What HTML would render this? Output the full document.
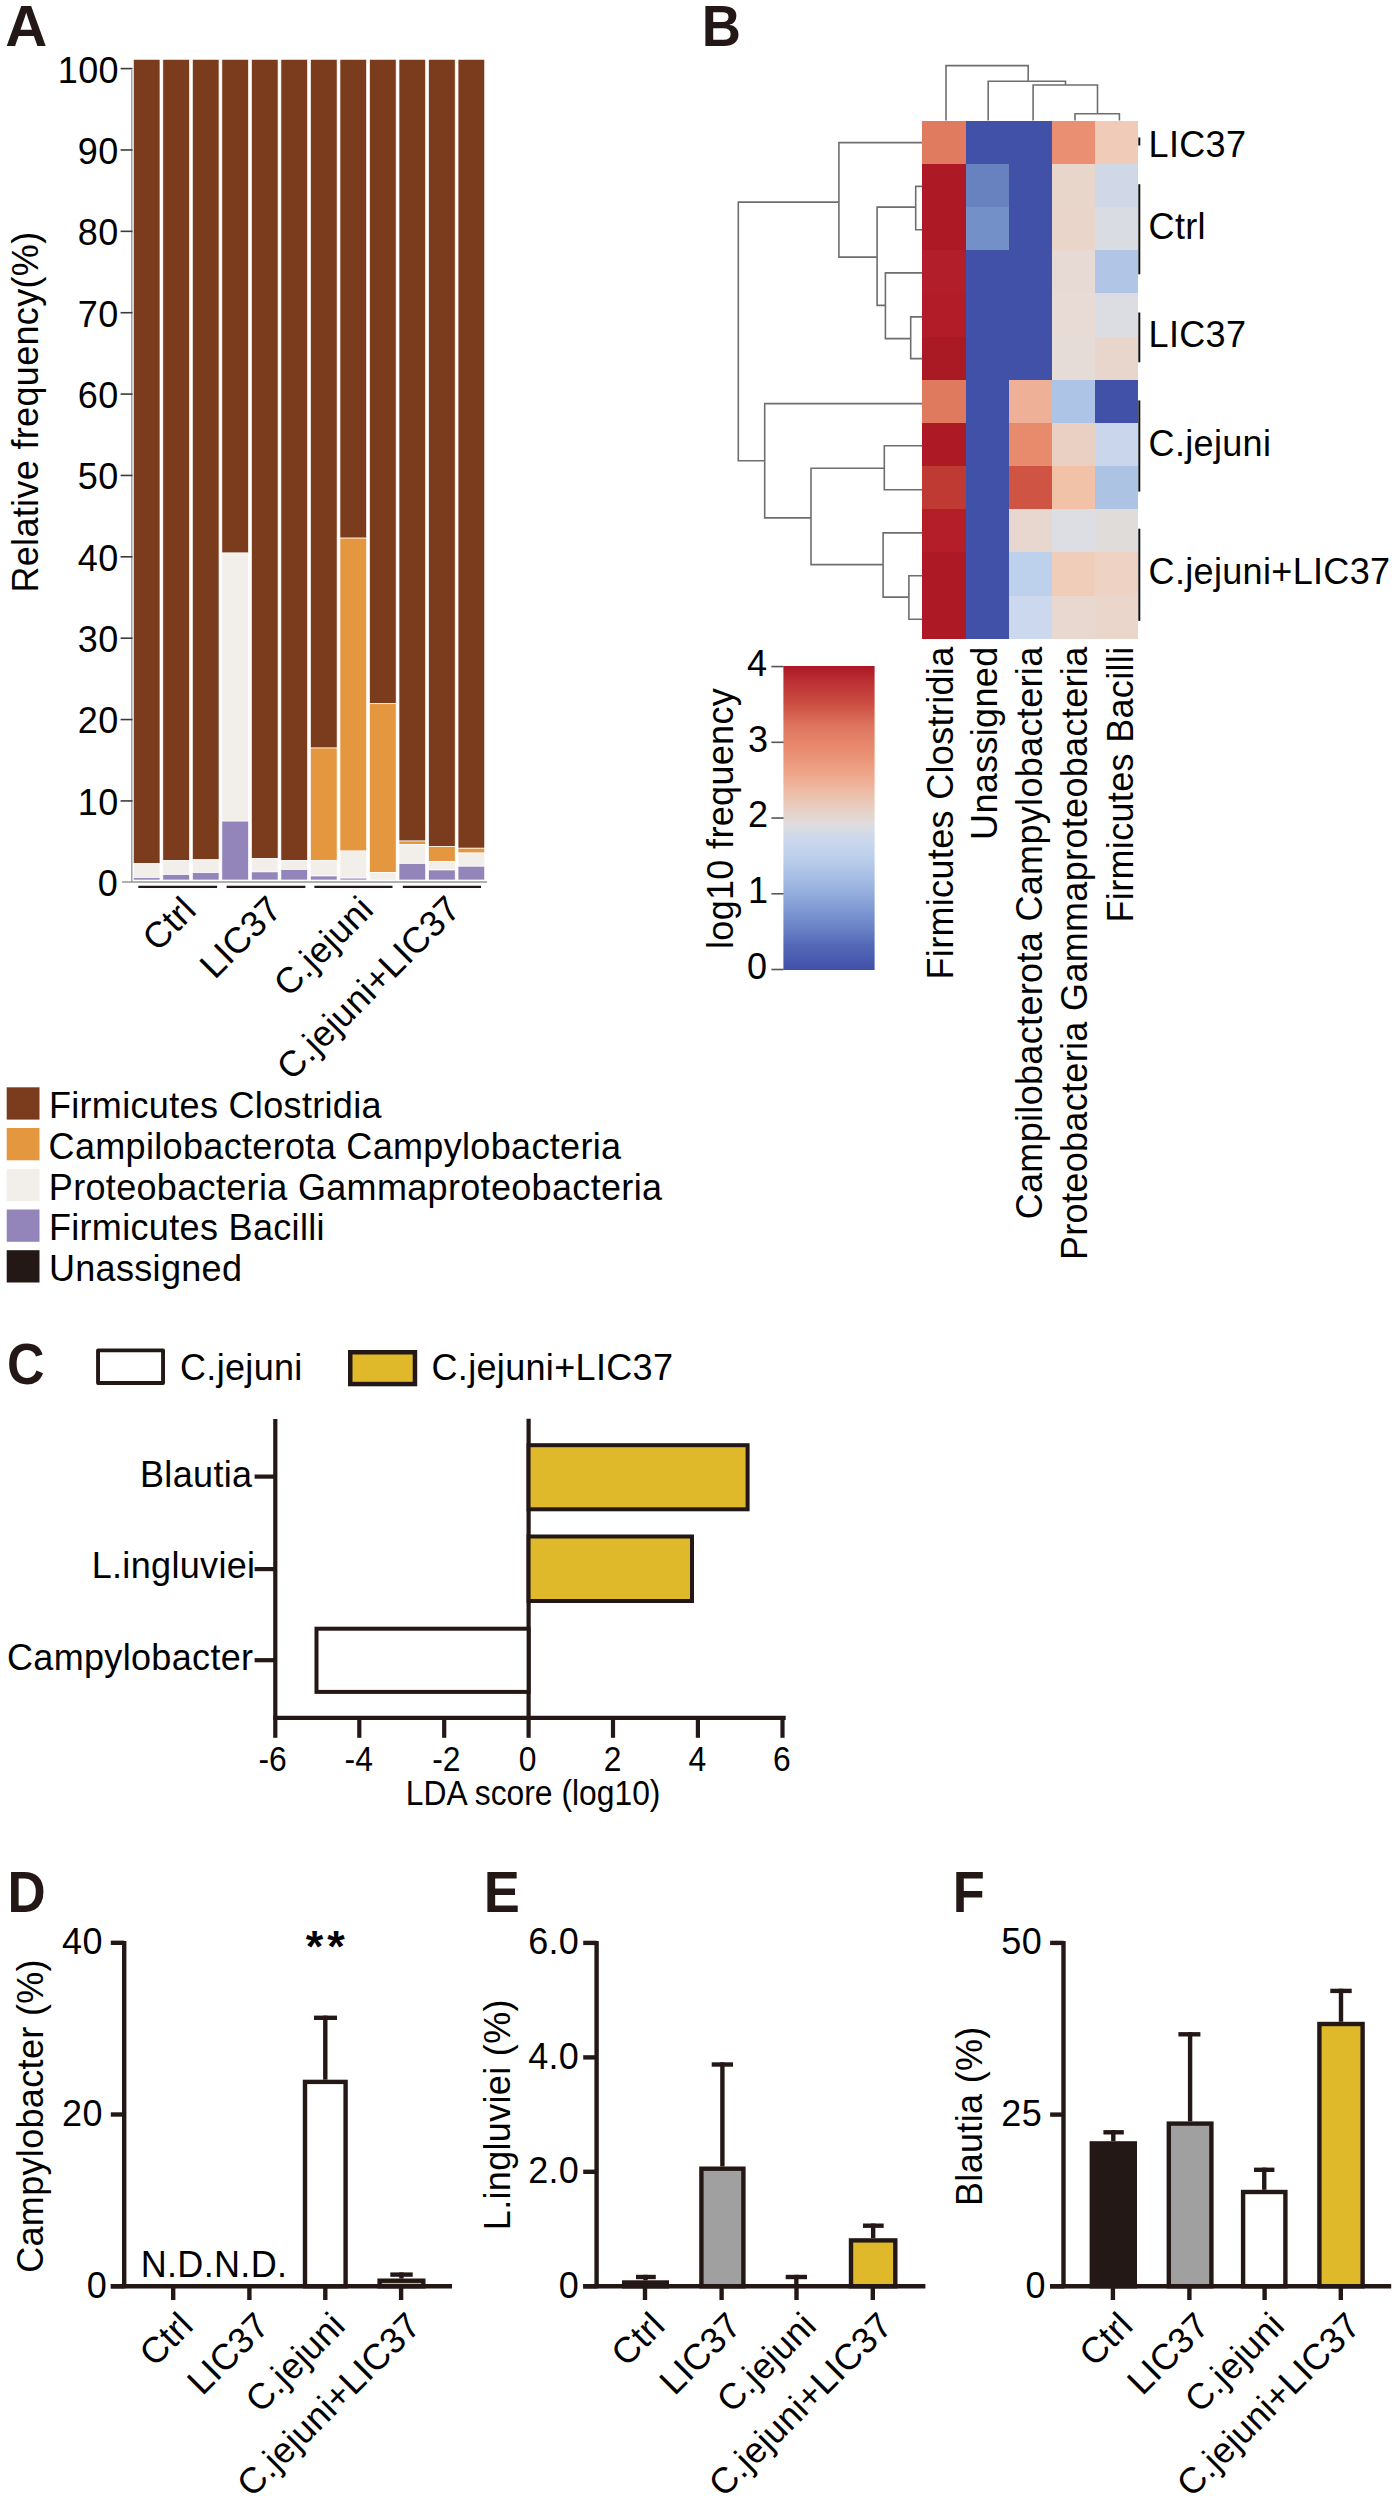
<!DOCTYPE html>
<html><head><meta charset="utf-8"><title>Figure</title>
<style>
html,body{margin:0;padding:0;background:#fff;}
body{width:1399px;height:2500px;overflow:hidden;}
svg{display:block;font-family:"Liberation Sans", sans-serif;}
</style></head><body>
<svg width="1399" height="2500" viewBox="0 0 1399 2500">
<rect x="0" y="0" width="1399" height="2500" fill="#fff"/>
<rect x="133.30" y="59.30" width="26.70" height="804.40" fill="#7b3c1e" stroke="#fff" stroke-width="0.7"/>
<rect x="133.30" y="863.70" width="26.70" height="14.00" fill="#f2eeea" stroke="#fff" stroke-width="0.7"/>
<rect x="133.30" y="877.70" width="26.70" height="2.30" fill="#9385b9" stroke="#fff" stroke-width="0.7"/>
<rect x="162.82" y="59.30" width="26.70" height="801.20" fill="#7b3c1e" stroke="#fff" stroke-width="0.7"/>
<rect x="162.82" y="860.50" width="26.70" height="14.10" fill="#f2eeea" stroke="#fff" stroke-width="0.7"/>
<rect x="162.82" y="874.60" width="26.70" height="5.40" fill="#9385b9" stroke="#fff" stroke-width="0.7"/>
<rect x="192.34" y="59.30" width="26.70" height="800.50" fill="#7b3c1e" stroke="#fff" stroke-width="0.7"/>
<rect x="192.34" y="859.80" width="26.70" height="12.90" fill="#f2eeea" stroke="#fff" stroke-width="0.7"/>
<rect x="192.34" y="872.70" width="26.70" height="7.30" fill="#9385b9" stroke="#fff" stroke-width="0.7"/>
<rect x="221.86" y="59.30" width="26.70" height="493.70" fill="#7b3c1e" stroke="#fff" stroke-width="0.7"/>
<rect x="221.86" y="553.00" width="26.70" height="268.10" fill="#f2eeea" stroke="#fff" stroke-width="0.7"/>
<rect x="221.86" y="821.10" width="26.70" height="58.90" fill="#9385b9" stroke="#fff" stroke-width="0.7"/>
<rect x="251.38" y="59.30" width="26.70" height="799.40" fill="#7b3c1e" stroke="#fff" stroke-width="0.7"/>
<rect x="251.38" y="858.70" width="26.70" height="13.20" fill="#f2eeea" stroke="#fff" stroke-width="0.7"/>
<rect x="251.38" y="871.90" width="26.70" height="8.10" fill="#9385b9" stroke="#fff" stroke-width="0.7"/>
<rect x="280.90" y="59.30" width="26.70" height="801.20" fill="#7b3c1e" stroke="#fff" stroke-width="0.7"/>
<rect x="280.90" y="860.50" width="26.70" height="9.10" fill="#f2eeea" stroke="#fff" stroke-width="0.7"/>
<rect x="280.90" y="869.60" width="26.70" height="10.40" fill="#9385b9" stroke="#fff" stroke-width="0.7"/>
<rect x="310.42" y="59.30" width="26.70" height="688.70" fill="#7b3c1e" stroke="#fff" stroke-width="0.7"/>
<rect x="310.42" y="748.00" width="26.70" height="112.70" fill="#e4973f" stroke="#fff" stroke-width="0.7"/>
<rect x="310.42" y="860.70" width="26.70" height="15.30" fill="#f2eeea" stroke="#fff" stroke-width="0.7"/>
<rect x="310.42" y="876.00" width="26.70" height="4.00" fill="#9385b9" stroke="#fff" stroke-width="0.7"/>
<rect x="339.94" y="59.30" width="26.70" height="478.80" fill="#7b3c1e" stroke="#fff" stroke-width="0.7"/>
<rect x="339.94" y="538.10" width="26.70" height="312.90" fill="#e4973f" stroke="#fff" stroke-width="0.7"/>
<rect x="339.94" y="851.00" width="26.70" height="27.10" fill="#f2eeea" stroke="#fff" stroke-width="0.7"/>
<rect x="339.94" y="878.10" width="26.70" height="1.90" fill="#9385b9" stroke="#fff" stroke-width="0.7"/>
<rect x="369.46" y="59.30" width="26.70" height="644.40" fill="#7b3c1e" stroke="#fff" stroke-width="0.7"/>
<rect x="369.46" y="703.70" width="26.70" height="168.90" fill="#e4973f" stroke="#fff" stroke-width="0.7"/>
<rect x="369.46" y="872.60" width="26.70" height="7.40" fill="#f2eeea" stroke="#fff" stroke-width="0.7"/>
<rect x="398.98" y="59.30" width="26.70" height="781.70" fill="#7b3c1e" stroke="#fff" stroke-width="0.7"/>
<rect x="398.98" y="841.00" width="26.70" height="3.40" fill="#e4973f" stroke="#fff" stroke-width="0.7"/>
<rect x="398.98" y="844.40" width="26.70" height="19.10" fill="#f2eeea" stroke="#fff" stroke-width="0.7"/>
<rect x="398.98" y="863.50" width="26.70" height="16.50" fill="#9385b9" stroke="#fff" stroke-width="0.7"/>
<rect x="428.50" y="59.30" width="26.70" height="787.20" fill="#7b3c1e" stroke="#fff" stroke-width="0.7"/>
<rect x="428.50" y="846.50" width="26.70" height="14.90" fill="#e4973f" stroke="#fff" stroke-width="0.7"/>
<rect x="428.50" y="861.40" width="26.70" height="8.60" fill="#f2eeea" stroke="#fff" stroke-width="0.7"/>
<rect x="428.50" y="870.00" width="26.70" height="10.00" fill="#9385b9" stroke="#fff" stroke-width="0.7"/>
<rect x="458.02" y="59.30" width="26.70" height="788.90" fill="#7b3c1e" stroke="#fff" stroke-width="0.7"/>
<rect x="458.02" y="848.20" width="26.70" height="4.80" fill="#e4973f" stroke="#fff" stroke-width="0.7"/>
<rect x="458.02" y="853.00" width="26.70" height="13.20" fill="#f2eeea" stroke="#fff" stroke-width="0.7"/>
<rect x="458.02" y="866.20" width="26.70" height="13.80" fill="#9385b9" stroke="#fff" stroke-width="0.7"/>
<line x1="131.80" y1="70.00" x2="131.80" y2="882.50" stroke="#9aa3aa" stroke-width="1.5"/>
<line x1="122.00" y1="882.00" x2="487.00" y2="882.00" stroke="#949494" stroke-width="1.6"/>
<line x1="120.60" y1="800.93" x2="132.50" y2="800.93" stroke="#3a3a3a" stroke-width="1.6"/>
<line x1="120.60" y1="719.56" x2="132.50" y2="719.56" stroke="#3a3a3a" stroke-width="1.6"/>
<line x1="120.60" y1="638.19" x2="132.50" y2="638.19" stroke="#3a3a3a" stroke-width="1.6"/>
<line x1="120.60" y1="556.82" x2="132.50" y2="556.82" stroke="#3a3a3a" stroke-width="1.6"/>
<line x1="120.60" y1="475.45" x2="132.50" y2="475.45" stroke="#3a3a3a" stroke-width="1.6"/>
<line x1="120.60" y1="394.08" x2="132.50" y2="394.08" stroke="#3a3a3a" stroke-width="1.6"/>
<line x1="120.60" y1="312.71" x2="132.50" y2="312.71" stroke="#3a3a3a" stroke-width="1.6"/>
<line x1="120.60" y1="231.34" x2="132.50" y2="231.34" stroke="#3a3a3a" stroke-width="1.6"/>
<line x1="120.60" y1="149.97" x2="132.50" y2="149.97" stroke="#3a3a3a" stroke-width="1.6"/>
<line x1="120.60" y1="68.60" x2="132.50" y2="68.60" stroke="#3a3a3a" stroke-width="1.6"/>
<line x1="138.30" y1="886.90" x2="217.10" y2="886.90" stroke="#231815" stroke-width="2.1"/>
<line x1="226.60" y1="886.90" x2="305.40" y2="886.90" stroke="#231815" stroke-width="2.1"/>
<line x1="314.40" y1="886.90" x2="392.50" y2="886.90" stroke="#231815" stroke-width="2.1"/>
<line x1="402.80" y1="886.90" x2="481.00" y2="886.90" stroke="#231815" stroke-width="2.1"/>
<rect x="6.70" y="1087.30" width="32.80" height="32.30" fill="#7b3c1e"/>
<rect x="6.70" y="1128.00" width="32.80" height="32.30" fill="#e4973f"/>
<rect x="6.70" y="1168.80" width="32.80" height="32.30" fill="#f2eeea"/>
<rect x="6.70" y="1209.50" width="32.80" height="32.30" fill="#9385b9"/>
<rect x="6.70" y="1250.20" width="32.80" height="32.30" fill="#231815"/>
<rect x="922.40" y="120.60" width="44.14" height="44.18" fill="#e07b5f" shape-rendering="crispEdges"/>
<rect x="965.54" y="120.60" width="44.14" height="44.18" fill="#4051a7" shape-rendering="crispEdges"/>
<rect x="1008.68" y="120.60" width="44.14" height="44.18" fill="#4051a7" shape-rendering="crispEdges"/>
<rect x="1051.82" y="120.60" width="44.14" height="44.18" fill="#ea8f72" shape-rendering="crispEdges"/>
<rect x="1094.96" y="120.60" width="43.14" height="44.18" fill="#efcbb8" shape-rendering="crispEdges"/>
<rect x="922.40" y="163.78" width="44.14" height="44.18" fill="#ad1a26" shape-rendering="crispEdges"/>
<rect x="965.54" y="163.78" width="44.14" height="44.18" fill="#6782bf" shape-rendering="crispEdges"/>
<rect x="1008.68" y="163.78" width="44.14" height="44.18" fill="#4051a7" shape-rendering="crispEdges"/>
<rect x="1051.82" y="163.78" width="44.14" height="44.18" fill="#e9d6cb" shape-rendering="crispEdges"/>
<rect x="1094.96" y="163.78" width="43.14" height="44.18" fill="#d0d8e8" shape-rendering="crispEdges"/>
<rect x="922.40" y="206.96" width="44.14" height="44.18" fill="#ad1a26" shape-rendering="crispEdges"/>
<rect x="965.54" y="206.96" width="44.14" height="44.18" fill="#7391c8" shape-rendering="crispEdges"/>
<rect x="1008.68" y="206.96" width="44.14" height="44.18" fill="#4051a7" shape-rendering="crispEdges"/>
<rect x="1051.82" y="206.96" width="44.14" height="44.18" fill="#ead5cb" shape-rendering="crispEdges"/>
<rect x="1094.96" y="206.96" width="43.14" height="44.18" fill="#dadce3" shape-rendering="crispEdges"/>
<rect x="922.40" y="250.14" width="44.14" height="44.18" fill="#b21e29" shape-rendering="crispEdges"/>
<rect x="965.54" y="250.14" width="44.14" height="44.18" fill="#4051a7" shape-rendering="crispEdges"/>
<rect x="1008.68" y="250.14" width="44.14" height="44.18" fill="#4051a7" shape-rendering="crispEdges"/>
<rect x="1051.82" y="250.14" width="44.14" height="44.18" fill="#e7dad4" shape-rendering="crispEdges"/>
<rect x="1094.96" y="250.14" width="43.14" height="44.18" fill="#b1c6e6" shape-rendering="crispEdges"/>
<rect x="922.40" y="293.32" width="44.14" height="44.18" fill="#b11c28" shape-rendering="crispEdges"/>
<rect x="965.54" y="293.32" width="44.14" height="44.18" fill="#4051a7" shape-rendering="crispEdges"/>
<rect x="1008.68" y="293.32" width="44.14" height="44.18" fill="#4051a7" shape-rendering="crispEdges"/>
<rect x="1051.82" y="293.32" width="44.14" height="44.18" fill="#e8dad4" shape-rendering="crispEdges"/>
<rect x="1094.96" y="293.32" width="43.14" height="44.18" fill="#dcdde3" shape-rendering="crispEdges"/>
<rect x="922.40" y="336.50" width="44.14" height="44.18" fill="#aa1a25" shape-rendering="crispEdges"/>
<rect x="965.54" y="336.50" width="44.14" height="44.18" fill="#4051a7" shape-rendering="crispEdges"/>
<rect x="1008.68" y="336.50" width="44.14" height="44.18" fill="#4051a7" shape-rendering="crispEdges"/>
<rect x="1051.82" y="336.50" width="44.14" height="44.18" fill="#e6dcd7" shape-rendering="crispEdges"/>
<rect x="1094.96" y="336.50" width="43.14" height="44.18" fill="#e8d6cc" shape-rendering="crispEdges"/>
<rect x="922.40" y="379.68" width="44.14" height="44.18" fill="#df7a5e" shape-rendering="crispEdges"/>
<rect x="965.54" y="379.68" width="44.14" height="44.18" fill="#4051a7" shape-rendering="crispEdges"/>
<rect x="1008.68" y="379.68" width="44.14" height="44.18" fill="#eeb096" shape-rendering="crispEdges"/>
<rect x="1051.82" y="379.68" width="44.14" height="44.18" fill="#aec4e6" shape-rendering="crispEdges"/>
<rect x="1094.96" y="379.68" width="43.14" height="44.18" fill="#4051a7" shape-rendering="crispEdges"/>
<rect x="922.40" y="422.86" width="44.14" height="44.18" fill="#ad1a26" shape-rendering="crispEdges"/>
<rect x="965.54" y="422.86" width="44.14" height="44.18" fill="#4051a7" shape-rendering="crispEdges"/>
<rect x="1008.68" y="422.86" width="44.14" height="44.18" fill="#e88a6c" shape-rendering="crispEdges"/>
<rect x="1051.82" y="422.86" width="44.14" height="44.18" fill="#ead0c2" shape-rendering="crispEdges"/>
<rect x="1094.96" y="422.86" width="43.14" height="44.18" fill="#c9d6ec" shape-rendering="crispEdges"/>
<rect x="922.40" y="466.04" width="44.14" height="44.18" fill="#be3a33" shape-rendering="crispEdges"/>
<rect x="965.54" y="466.04" width="44.14" height="44.18" fill="#4051a7" shape-rendering="crispEdges"/>
<rect x="1008.68" y="466.04" width="44.14" height="44.18" fill="#d05444" shape-rendering="crispEdges"/>
<rect x="1051.82" y="466.04" width="44.14" height="44.18" fill="#f2c2a8" shape-rendering="crispEdges"/>
<rect x="1094.96" y="466.04" width="43.14" height="44.18" fill="#adc3e4" shape-rendering="crispEdges"/>
<rect x="922.40" y="509.22" width="44.14" height="44.18" fill="#b31e29" shape-rendering="crispEdges"/>
<rect x="965.54" y="509.22" width="44.14" height="44.18" fill="#4051a7" shape-rendering="crispEdges"/>
<rect x="1008.68" y="509.22" width="44.14" height="44.18" fill="#e8d7ce" shape-rendering="crispEdges"/>
<rect x="1051.82" y="509.22" width="44.14" height="44.18" fill="#dcdee4" shape-rendering="crispEdges"/>
<rect x="1094.96" y="509.22" width="43.14" height="44.18" fill="#e0dcda" shape-rendering="crispEdges"/>
<rect x="922.40" y="552.40" width="44.14" height="44.18" fill="#ad1a26" shape-rendering="crispEdges"/>
<rect x="965.54" y="552.40" width="44.14" height="44.18" fill="#4051a7" shape-rendering="crispEdges"/>
<rect x="1008.68" y="552.40" width="44.14" height="44.18" fill="#bdd0ec" shape-rendering="crispEdges"/>
<rect x="1051.82" y="552.40" width="44.14" height="44.18" fill="#f0cdb8" shape-rendering="crispEdges"/>
<rect x="1094.96" y="552.40" width="43.14" height="44.18" fill="#eed3c4" shape-rendering="crispEdges"/>
<rect x="922.40" y="595.58" width="44.14" height="43.18" fill="#ad1a26" shape-rendering="crispEdges"/>
<rect x="965.54" y="595.58" width="44.14" height="43.18" fill="#4051a7" shape-rendering="crispEdges"/>
<rect x="1008.68" y="595.58" width="44.14" height="43.18" fill="#cbd8ee" shape-rendering="crispEdges"/>
<rect x="1051.82" y="595.58" width="44.14" height="43.18" fill="#e8d8d0" shape-rendering="crispEdges"/>
<rect x="1094.96" y="595.58" width="43.14" height="43.18" fill="#ebd6cb" shape-rendering="crispEdges"/>
<path d="M922.0 142.6 L838.9 142.6 L838.9 257.1 L877.1 257.1" fill="none" stroke="#6e6e6e" stroke-width="1.6"/>
<path d="M838.9 202.1 L738.3 202.1 L738.3 460.7 L764.7 460.7" fill="none" stroke="#6e6e6e" stroke-width="1.6"/>
<path d="M922.0 186.4 L915.7 186.4 L915.7 229.7 L922.0 229.7" fill="none" stroke="#6e6e6e" stroke-width="1.6"/>
<path d="M915.7 207.1 L877.1 207.1 L877.1 305.4 L885.4 305.4" fill="none" stroke="#6e6e6e" stroke-width="1.6"/>
<path d="M922.0 272.9 L885.4 272.9 L885.4 338.6 L910.7 338.6" fill="none" stroke="#6e6e6e" stroke-width="1.6"/>
<path d="M922.0 316.9 L910.7 316.9 L910.7 358.6 L922.0 358.6" fill="none" stroke="#6e6e6e" stroke-width="1.6"/>
<path d="M922.0 403.6 L764.7 403.6 L764.7 517.9 L811.0 517.9" fill="none" stroke="#6e6e6e" stroke-width="1.6"/>
<path d="M884.3 468.3 L811.0 468.3 L811.0 564.6 L883.1 564.6" fill="none" stroke="#6e6e6e" stroke-width="1.6"/>
<path d="M922.0 445.7 L884.3 445.7 L884.3 489.7 L922.0 489.7" fill="none" stroke="#6e6e6e" stroke-width="1.6"/>
<path d="M922.0 532.9 L883.1 532.9 L883.1 597.1 L908.9 597.1" fill="none" stroke="#6e6e6e" stroke-width="1.6"/>
<path d="M922.0 575.7 L908.9 575.7 L908.9 619.3 L922.0 619.3" fill="none" stroke="#6e6e6e" stroke-width="1.6"/>
<path d="M946.0 120.6 L946.0 65.6 L1028.2 65.6 L1028.2 81.2" fill="none" stroke="#6e6e6e" stroke-width="1.6"/>
<path d="M988.2 120.6 L988.2 81.2 L1065.5 81.2 L1065.5 85.0" fill="none" stroke="#6e6e6e" stroke-width="1.6"/>
<path d="M1033.1 120.6 L1033.1 85.0 L1097.5 85.0 L1097.5 113.8" fill="none" stroke="#6e6e6e" stroke-width="1.6"/>
<path d="M1075.0 120.6 L1075.0 113.8 L1119.4 113.8 L1119.4 120.6" fill="none" stroke="#6e6e6e" stroke-width="1.6"/>
<line x1="1139.30" y1="137.50" x2="1139.30" y2="145.50" stroke="#111" stroke-width="2"/>
<line x1="1139.30" y1="184.20" x2="1139.30" y2="274.30" stroke="#111" stroke-width="2"/>
<line x1="1139.30" y1="312.50" x2="1139.30" y2="362.30" stroke="#111" stroke-width="2"/>
<line x1="1139.30" y1="400.40" x2="1139.30" y2="491.60" stroke="#111" stroke-width="2"/>
<line x1="1139.30" y1="528.70" x2="1139.30" y2="620.90" stroke="#111" stroke-width="2"/>
<defs><linearGradient id="cb" x1="0" y1="0" x2="0" y2="1"><stop offset="0" stop-color="#ab1625"/><stop offset="0.05" stop-color="#bb3033"/><stop offset="0.12" stop-color="#ca4c40"/><stop offset="0.2" stop-color="#df7660"/><stop offset="0.27" stop-color="#e88a6e"/><stop offset="0.35" stop-color="#efa488"/><stop offset="0.42" stop-color="#edbfa9"/><stop offset="0.47" stop-color="#e8d0c4"/><stop offset="0.52" stop-color="#dedcdd"/><stop offset="0.57" stop-color="#ccd8ec"/><stop offset="0.63" stop-color="#bccfeb"/><stop offset="0.7" stop-color="#a5bde4"/><stop offset="0.77" stop-color="#8ba5d9"/><stop offset="0.85" stop-color="#6d87c8"/><stop offset="0.92" stop-color="#5468b7"/><stop offset="1.0" stop-color="#4050a8"/></linearGradient></defs>
<rect x="783.40" y="666.00" width="91.20" height="304.00" fill="url(#cb)"/>
<line x1="771.40" y1="969.50" x2="783.60" y2="969.50" stroke="#555" stroke-width="1.6"/>
<line x1="771.40" y1="893.77" x2="783.60" y2="893.77" stroke="#555" stroke-width="1.6"/>
<line x1="771.40" y1="818.04" x2="783.60" y2="818.04" stroke="#555" stroke-width="1.6"/>
<line x1="771.40" y1="742.31" x2="783.60" y2="742.31" stroke="#555" stroke-width="1.6"/>
<line x1="771.40" y1="666.58" x2="783.60" y2="666.58" stroke="#555" stroke-width="1.6"/>
<rect x="98.05" y="1350.35" width="65" height="32.7" fill="#fff" stroke="#231815" stroke-width="3.9" stroke-linejoin="round"/>
<rect x="350.25" y="1352.25" width="64.70" height="31.80" fill="#dfb929" stroke="#231815" stroke-width="4.5"/>
<line x1="275.30" y1="1419.00" x2="275.30" y2="1719.60" stroke="#231815" stroke-width="4.2"/>
<line x1="273.50" y1="1717.80" x2="785.70" y2="1717.80" stroke="#231815" stroke-width="4.2"/>
<line x1="275.30" y1="1716.00" x2="275.30" y2="1737.80" stroke="#231815" stroke-width="4.2"/>
<line x1="359.30" y1="1716.00" x2="359.30" y2="1737.80" stroke="#231815" stroke-width="4.2"/>
<line x1="444.20" y1="1716.00" x2="444.20" y2="1737.80" stroke="#231815" stroke-width="4.2"/>
<line x1="528.60" y1="1716.00" x2="528.60" y2="1737.80" stroke="#231815" stroke-width="4.2"/>
<line x1="613.00" y1="1716.00" x2="613.00" y2="1737.80" stroke="#231815" stroke-width="4.2"/>
<line x1="697.90" y1="1716.00" x2="697.90" y2="1737.80" stroke="#231815" stroke-width="4.2"/>
<line x1="782.50" y1="1716.00" x2="782.50" y2="1737.80" stroke="#231815" stroke-width="4.2"/>
<line x1="528.60" y1="1418.70" x2="528.60" y2="1717.80" stroke="#231815" stroke-width="4.2"/>
<rect x="528.60" y="1445.20" width="219.00" height="64.10" fill="#dfb929" stroke="#231815" stroke-width="4.0"/>
<rect x="528.60" y="1536.50" width="163.40" height="64.50" fill="#dfb929" stroke="#231815" stroke-width="4.0"/>
<rect x="316.50" y="1628.70" width="212.10" height="63.20" fill="#fff" stroke="#231815" stroke-width="4.0"/>
<line x1="254.60" y1="1476.60" x2="275.30" y2="1476.60" stroke="#231815" stroke-width="4.2"/>
<line x1="254.60" y1="1569.10" x2="275.30" y2="1569.10" stroke="#231815" stroke-width="4.2"/>
<line x1="254.60" y1="1660.20" x2="275.30" y2="1660.20" stroke="#231815" stroke-width="4.2"/>
<line x1="124.20" y1="1941.00" x2="124.20" y2="2288.30" stroke="#231815" stroke-width="4.4"/>
<line x1="110.80" y1="1942.80" x2="124.20" y2="1942.80" stroke="#231815" stroke-width="4.4"/>
<line x1="110.80" y1="2114.50" x2="124.20" y2="2114.50" stroke="#231815" stroke-width="4.4"/>
<line x1="110.80" y1="2286.30" x2="124.20" y2="2286.30" stroke="#231815" stroke-width="4.4"/>
<line x1="325.30" y1="2079.70" x2="325.30" y2="2015.60" stroke="#231815" stroke-width="4.4"/>
<line x1="314.00" y1="2017.80" x2="337.00" y2="2017.80" stroke="#231815" stroke-width="4.4"/>
<rect x="305.00" y="2081.90" width="40.60" height="204.40" fill="#fff" stroke="#231815" stroke-width="4.4"/>
<line x1="401.45" y1="2278.50" x2="401.45" y2="2272.40" stroke="#231815" stroke-width="4.4"/>
<line x1="390.30" y1="2274.60" x2="412.70" y2="2274.60" stroke="#231815" stroke-width="4.4"/>
<rect x="379.60" y="2280.70" width="43.70" height="5.60" fill="#dfb929" stroke="#231815" stroke-width="4.4"/>
<line x1="110.80" y1="2286.30" x2="452.00" y2="2286.30" stroke="#231815" stroke-width="4.4"/>
<line x1="173.20" y1="2286.30" x2="173.20" y2="2300.00" stroke="#231815" stroke-width="4.4"/>
<line x1="249.40" y1="2286.30" x2="249.40" y2="2300.00" stroke="#231815" stroke-width="4.4"/>
<line x1="325.30" y1="2286.30" x2="325.30" y2="2300.00" stroke="#231815" stroke-width="4.4"/>
<line x1="401.10" y1="2286.30" x2="401.10" y2="2300.00" stroke="#231815" stroke-width="4.4"/>
<line x1="596.60" y1="1941.00" x2="596.60" y2="2288.30" stroke="#231815" stroke-width="4.4"/>
<line x1="583.20" y1="1942.90" x2="596.60" y2="1942.90" stroke="#231815" stroke-width="4.4"/>
<line x1="583.20" y1="2057.40" x2="596.60" y2="2057.40" stroke="#231815" stroke-width="4.4"/>
<line x1="583.20" y1="2171.80" x2="596.60" y2="2171.80" stroke="#231815" stroke-width="4.4"/>
<line x1="583.20" y1="2286.30" x2="596.60" y2="2286.30" stroke="#231815" stroke-width="4.4"/>
<line x1="645.50" y1="2280.30" x2="645.50" y2="2274.80" stroke="#231815" stroke-width="4.4"/>
<line x1="636.00" y1="2277.00" x2="655.80" y2="2277.00" stroke="#231815" stroke-width="4.4"/>
<rect x="624.20" y="2282.50" width="42.60" height="3.80" fill="#231815" stroke="#231815" stroke-width="4.4"/>
<line x1="722.40" y1="2166.50" x2="722.40" y2="2062.30" stroke="#231815" stroke-width="4.4"/>
<line x1="711.70" y1="2064.50" x2="733.00" y2="2064.50" stroke="#231815" stroke-width="4.4"/>
<rect x="701.40" y="2168.70" width="42.00" height="117.60" fill="#a0a0a0" stroke="#231815" stroke-width="4.4"/>
<line x1="796.35" y1="2284.20" x2="796.35" y2="2274.80" stroke="#231815" stroke-width="4.4"/>
<line x1="785.70" y1="2277.00" x2="807.00" y2="2277.00" stroke="#231815" stroke-width="4.4"/>
<rect x="774.70" y="2286.40" width="43.30" height="-0.10" fill="#fff" stroke="#231815" stroke-width="4.4"/>
<line x1="873.15" y1="2238.20" x2="873.15" y2="2223.50" stroke="#231815" stroke-width="4.4"/>
<line x1="863.00" y1="2225.70" x2="883.70" y2="2225.70" stroke="#231815" stroke-width="4.4"/>
<rect x="851.00" y="2240.40" width="44.30" height="45.90" fill="#dfb929" stroke="#231815" stroke-width="4.4"/>
<line x1="583.20" y1="2286.30" x2="925.40" y2="2286.30" stroke="#231815" stroke-width="4.4"/>
<line x1="645.00" y1="2286.30" x2="645.00" y2="2300.00" stroke="#231815" stroke-width="4.4"/>
<line x1="721.60" y1="2286.30" x2="721.60" y2="2300.00" stroke="#231815" stroke-width="4.4"/>
<line x1="796.50" y1="2286.30" x2="796.50" y2="2300.00" stroke="#231815" stroke-width="4.4"/>
<line x1="872.80" y1="2286.30" x2="872.80" y2="2300.00" stroke="#231815" stroke-width="4.4"/>
<line x1="1063.50" y1="1941.00" x2="1063.50" y2="2288.30" stroke="#231815" stroke-width="4.4"/>
<line x1="1050.10" y1="1942.90" x2="1063.50" y2="1942.90" stroke="#231815" stroke-width="4.4"/>
<line x1="1050.10" y1="2114.60" x2="1063.50" y2="2114.60" stroke="#231815" stroke-width="4.4"/>
<line x1="1050.10" y1="2286.30" x2="1063.50" y2="2286.30" stroke="#231815" stroke-width="4.4"/>
<line x1="1113.30" y1="2141.20" x2="1113.30" y2="2130.10" stroke="#231815" stroke-width="4.4"/>
<line x1="1103.40" y1="2132.30" x2="1123.80" y2="2132.30" stroke="#231815" stroke-width="4.4"/>
<rect x="1091.80" y="2143.40" width="43.00" height="142.90" fill="#231815" stroke="#231815" stroke-width="4.4"/>
<line x1="1190.10" y1="2121.40" x2="1190.10" y2="2032.10" stroke="#231815" stroke-width="4.4"/>
<line x1="1178.40" y1="2034.30" x2="1200.40" y2="2034.30" stroke="#231815" stroke-width="4.4"/>
<rect x="1168.80" y="2123.60" width="42.60" height="162.70" fill="#a0a0a0" stroke="#231815" stroke-width="4.4"/>
<line x1="1264.25" y1="2189.80" x2="1264.25" y2="2167.60" stroke="#231815" stroke-width="4.4"/>
<line x1="1254.00" y1="2169.80" x2="1274.40" y2="2169.80" stroke="#231815" stroke-width="4.4"/>
<rect x="1243.10" y="2192.00" width="42.30" height="94.30" fill="#fff" stroke="#231815" stroke-width="4.4"/>
<line x1="1341.00" y1="2021.80" x2="1341.00" y2="1988.70" stroke="#231815" stroke-width="4.4"/>
<line x1="1330.30" y1="1990.90" x2="1351.70" y2="1990.90" stroke="#231815" stroke-width="4.4"/>
<rect x="1319.40" y="2024.00" width="43.20" height="262.30" fill="#dfb929" stroke="#231815" stroke-width="4.4"/>
<line x1="1050.10" y1="2286.30" x2="1391.20" y2="2286.30" stroke="#231815" stroke-width="4.4"/>
<line x1="1112.90" y1="2286.30" x2="1112.90" y2="2300.00" stroke="#231815" stroke-width="4.4"/>
<line x1="1189.40" y1="2286.30" x2="1189.40" y2="2300.00" stroke="#231815" stroke-width="4.4"/>
<line x1="1264.60" y1="2286.30" x2="1264.60" y2="2300.00" stroke="#231815" stroke-width="4.4"/>
<line x1="1340.80" y1="2286.30" x2="1340.80" y2="2300.00" stroke="#231815" stroke-width="4.4"/>
<text x="0" y="0" font-size="57" text-anchor="start" font-weight="bold" fill="#231815" transform="translate(5.30 45.90) scale(1.02 1)">A</text>
<text x="0" y="0" font-size="36" text-anchor="start" letter-spacing="0.33" fill="#000" transform="translate(97.80 896.20)">0</text>
<text x="0" y="0" font-size="36" text-anchor="start" letter-spacing="0.33" fill="#000" transform="translate(77.80 814.83)">10</text>
<text x="0" y="0" font-size="36" text-anchor="start" letter-spacing="0.33" fill="#000" transform="translate(77.80 733.46)">20</text>
<text x="0" y="0" font-size="36" text-anchor="start" letter-spacing="0.33" fill="#000" transform="translate(77.80 652.09)">30</text>
<text x="0" y="0" font-size="36" text-anchor="start" letter-spacing="0.33" fill="#000" transform="translate(77.80 570.72)">40</text>
<text x="0" y="0" font-size="36" text-anchor="start" letter-spacing="0.33" fill="#000" transform="translate(77.80 489.35)">50</text>
<text x="0" y="0" font-size="36" text-anchor="start" letter-spacing="0.33" fill="#000" transform="translate(77.80 407.98)">60</text>
<text x="0" y="0" font-size="36" text-anchor="start" letter-spacing="0.33" fill="#000" transform="translate(77.80 326.61)">70</text>
<text x="0" y="0" font-size="36" text-anchor="start" letter-spacing="0.33" fill="#000" transform="translate(77.80 245.24)">80</text>
<text x="0" y="0" font-size="36" text-anchor="start" letter-spacing="0.33" fill="#000" transform="translate(77.80 163.87)">90</text>
<text x="0" y="0" font-size="36" text-anchor="start" letter-spacing="0.33" fill="#000" transform="translate(57.80 82.50)">100</text>
<text x="0" y="0" font-size="36" text-anchor="middle" letter-spacing="0.33" fill="#000" transform="translate(38.00 412.05) rotate(-90)">Relative frequency(%)</text>
<text x="0" y="0" font-size="36" text-anchor="end" letter-spacing="0.33" fill="#000" transform="translate(198.10 912.10) rotate(-45)">Ctrl</text>
<text x="0" y="0" font-size="36" text-anchor="end" letter-spacing="0.33" fill="#000" transform="translate(283.80 911.05) rotate(-45)">LIC37</text>
<text x="0" y="0" font-size="36" text-anchor="end" letter-spacing="0.33" fill="#000" transform="translate(375.50 911.45) rotate(-45)">C.jejuni</text>
<text x="0" y="0" font-size="36" text-anchor="end" letter-spacing="0.33" fill="#000" transform="translate(462.70 910.80) rotate(-45)">C.jejuni+LIC37</text>
<text x="0" y="0" font-size="36" text-anchor="start" letter-spacing="0.33" fill="#000" transform="translate(48.90 1118.20)">Firmicutes Clostridia</text>
<text x="0" y="0" font-size="36" text-anchor="start" letter-spacing="0.33" fill="#000" transform="translate(48.60 1158.80)">Campilobacterota Campylobacteria</text>
<text x="0" y="0" font-size="36" text-anchor="start" letter-spacing="0.33" fill="#000" transform="translate(48.80 1199.60)">Proteobacteria Gammaproteobacteria</text>
<text x="0" y="0" font-size="36" text-anchor="start" letter-spacing="0.33" fill="#000" transform="translate(48.90 1240.40)">Firmicutes Bacilli</text>
<text x="0" y="0" font-size="36" text-anchor="start" letter-spacing="0.33" fill="#000" transform="translate(48.90 1281.00)">Unassigned</text>
<text x="0" y="0" font-size="57" text-anchor="start" font-weight="bold" fill="#231815" transform="translate(701.70 45.80) scale(0.953 1)">B</text>
<text x="0" y="0" font-size="36" text-anchor="start" letter-spacing="0.33" fill="#000" transform="translate(1148.60 156.50)">LIC37</text>
<text x="0" y="0" font-size="36" text-anchor="start" letter-spacing="0.33" fill="#000" transform="translate(1148.60 238.70)">Ctrl</text>
<text x="0" y="0" font-size="36" text-anchor="start" letter-spacing="0.33" fill="#000" transform="translate(1148.60 346.80)">LIC37</text>
<text x="0" y="0" font-size="36" text-anchor="start" letter-spacing="0.33" fill="#000" transform="translate(1148.60 456.00)">C.jejuni</text>
<text x="0" y="0" font-size="36" text-anchor="start" letter-spacing="0.33" fill="#000" transform="translate(1148.60 583.80)">C.jejuni+LIC37</text>
<text x="0" y="0" font-size="36" text-anchor="end" letter-spacing="0.33" fill="#000" transform="translate(952.50 646.50) rotate(-90)">Firmicutes Clostridia</text>
<text x="0" y="0" font-size="36" text-anchor="end" letter-spacing="0.33" fill="#000" transform="translate(997.00 646.50) rotate(-90)">Unassigned</text>
<text x="0" y="0" font-size="36" text-anchor="end" letter-spacing="0.33" fill="#000" transform="translate(1042.00 646.50) rotate(-90)">Campilobacterota Campylobacteria</text>
<text x="0" y="0" font-size="36" text-anchor="end" letter-spacing="0.33" fill="#000" transform="translate(1087.30 646.50) rotate(-90)">Proteobacteria Gammaproteobacteria</text>
<text x="0" y="0" font-size="36" text-anchor="end" letter-spacing="0.33" fill="#000" transform="translate(1132.50 646.50) rotate(-90)">Firmicutes Bacilli</text>
<text x="0" y="0" font-size="36" text-anchor="start" letter-spacing="0.33" fill="#000" transform="translate(747.00 978.80)">0</text>
<text x="0" y="0" font-size="36" text-anchor="start" letter-spacing="0.33" fill="#000" transform="translate(748.00 903.07)">1</text>
<text x="0" y="0" font-size="36" text-anchor="start" letter-spacing="0.33" fill="#000" transform="translate(748.00 827.34)">2</text>
<text x="0" y="0" font-size="36" text-anchor="start" letter-spacing="0.33" fill="#000" transform="translate(748.00 751.61)">3</text>
<text x="0" y="0" font-size="36" text-anchor="start" letter-spacing="0.33" fill="#000" transform="translate(747.00 675.88)">4</text>
<text x="0" y="0" font-size="36" text-anchor="middle" letter-spacing="0.33" fill="#000" transform="translate(733.30 818.45) rotate(-90)">log10 frequency</text>
<text x="0" y="0" font-size="57" text-anchor="start" font-weight="bold" fill="#231815" transform="translate(6.95 1383.60) scale(0.91 1)">C</text>
<text x="0" y="0" font-size="36" text-anchor="start" letter-spacing="0.33" fill="#000" transform="translate(180.00 1380.00)">C.jejuni</text>
<text x="0" y="0" font-size="36" text-anchor="start" letter-spacing="0.33" fill="#000" transform="translate(431.50 1380.00)">C.jejuni+LIC37</text>
<text x="0" y="0" font-size="34.6" text-anchor="middle" fill="#000" transform="translate(272.55 1771.00) scale(0.92 1)">-6</text>
<text x="0" y="0" font-size="34.6" text-anchor="middle" fill="#000" transform="translate(358.70 1771.00) scale(0.92 1)">-4</text>
<text x="0" y="0" font-size="34.6" text-anchor="middle" fill="#000" transform="translate(446.30 1771.00) scale(0.92 1)">-2</text>
<text x="0" y="0" font-size="34.6" text-anchor="middle" fill="#000" transform="translate(527.60 1771.00) scale(0.92 1)">0</text>
<text x="0" y="0" font-size="34.6" text-anchor="middle" fill="#000" transform="translate(612.50 1771.00) scale(0.92 1)">2</text>
<text x="0" y="0" font-size="34.6" text-anchor="middle" fill="#000" transform="translate(697.30 1771.00) scale(0.92 1)">4</text>
<text x="0" y="0" font-size="34.6" text-anchor="middle" fill="#000" transform="translate(781.90 1771.00) scale(0.92 1)">6</text>
<text x="0" y="0" font-size="34.6" text-anchor="middle" fill="#000" transform="translate(533.10 1805.30) scale(0.92 1)">LDA score (log10)</text>
<text x="0" y="0" font-size="36" text-anchor="end" letter-spacing="0.33" fill="#000" transform="translate(252.40 1487.00)">Blautia</text>
<text x="0" y="0" font-size="36" text-anchor="end" letter-spacing="0.33" fill="#000" transform="translate(255.40 1578.10)">L.ingluviei</text>
<text x="0" y="0" font-size="36" text-anchor="end" letter-spacing="0.33" fill="#000" transform="translate(253.40 1669.80)">Campylobacter</text>
<text x="0" y="0" font-size="57" text-anchor="start" font-weight="bold" fill="#231815" transform="translate(7.50 1912.20) scale(0.927 1)">D</text>
<text x="0" y="0" font-size="36" text-anchor="end" letter-spacing="0.33" fill="#000" transform="translate(102.80 1954.20)">40</text>
<text x="0" y="0" font-size="36" text-anchor="end" letter-spacing="0.33" fill="#000" transform="translate(102.80 2125.90)">20</text>
<text x="0" y="0" font-size="36" text-anchor="end" letter-spacing="0.33" fill="#000" transform="translate(107.20 2297.70)">0</text>
<text x="0" y="0" font-size="36" text-anchor="middle" letter-spacing="0.33" fill="#000" transform="translate(42.70 2116.00) rotate(-90)">Campylobacter (%)</text>
<text x="0" y="0" font-size="36" text-anchor="end" letter-spacing="0.33" fill="#000" transform="translate(195.10 2327.50) rotate(-45)">Ctrl</text>
<text x="0" y="0" font-size="36" text-anchor="end" letter-spacing="0.33" fill="#000" transform="translate(271.30 2327.50) rotate(-45)">LIC37</text>
<text x="0" y="0" font-size="36" text-anchor="end" letter-spacing="0.33" fill="#000" transform="translate(347.20 2327.50) rotate(-45)">C.jejuni</text>
<text x="0" y="0" font-size="36" text-anchor="end" letter-spacing="0.33" fill="#000" transform="translate(423.00 2327.50) rotate(-45)">C.jejuni+LIC37</text>
<text x="0" y="0" font-size="36" text-anchor="middle" letter-spacing="0.33" fill="#000" transform="translate(214.00 2276.50)">N.D.N.D.</text>
<text x="0" y="0" font-size="45" text-anchor="middle" font-weight="bold" fill="#000" transform="translate(314.55 1961.60)">*</text>
<text x="0" y="0" font-size="45" text-anchor="middle" font-weight="bold" fill="#000" transform="translate(335.90 1961.60)">*</text>
<text x="0" y="0" font-size="57" text-anchor="start" font-weight="bold" fill="#231815" transform="translate(483.70 1912.20) scale(0.95 1)">E</text>
<text x="0" y="0" font-size="36" text-anchor="end" letter-spacing="0.33" fill="#000" transform="translate(579.20 1954.30)">6.0</text>
<text x="0" y="0" font-size="36" text-anchor="end" letter-spacing="0.33" fill="#000" transform="translate(579.20 2068.80)">4.0</text>
<text x="0" y="0" font-size="36" text-anchor="end" letter-spacing="0.33" fill="#000" transform="translate(579.20 2183.20)">2.0</text>
<text x="0" y="0" font-size="36" text-anchor="end" letter-spacing="0.33" fill="#000" transform="translate(579.20 2297.70)">0</text>
<text x="0" y="0" font-size="36" text-anchor="middle" letter-spacing="0.33" fill="#000" transform="translate(510.30 2114.70) rotate(-90)">L.ingluviei (%)</text>
<text x="0" y="0" font-size="36" text-anchor="end" letter-spacing="0.33" fill="#000" transform="translate(666.90 2327.50) rotate(-45)">Ctrl</text>
<text x="0" y="0" font-size="36" text-anchor="end" letter-spacing="0.33" fill="#000" transform="translate(743.50 2327.50) rotate(-45)">LIC37</text>
<text x="0" y="0" font-size="36" text-anchor="end" letter-spacing="0.33" fill="#000" transform="translate(818.40 2327.50) rotate(-45)">C.jejuni</text>
<text x="0" y="0" font-size="36" text-anchor="end" letter-spacing="0.33" fill="#000" transform="translate(894.70 2327.50) rotate(-45)">C.jejuni+LIC37</text>
<text x="0" y="0" font-size="57" text-anchor="start" font-weight="bold" fill="#231815" transform="translate(952.85 1912.20) scale(0.92 1)">F</text>
<text x="0" y="0" font-size="36" text-anchor="end" letter-spacing="0.33" fill="#000" transform="translate(1042.00 1954.30)">50</text>
<text x="0" y="0" font-size="36" text-anchor="end" letter-spacing="0.33" fill="#000" transform="translate(1042.00 2126.00)">25</text>
<text x="0" y="0" font-size="36" text-anchor="end" letter-spacing="0.33" fill="#000" transform="translate(1045.80 2297.70)">0</text>
<text x="0" y="0" font-size="36" text-anchor="middle" letter-spacing="0.33" fill="#000" transform="translate(982.20 2116.20) rotate(-90)">Blautia (%)</text>
<text x="0" y="0" font-size="36" text-anchor="end" letter-spacing="0.33" fill="#000" transform="translate(1134.80 2327.50) rotate(-45)">Ctrl</text>
<text x="0" y="0" font-size="36" text-anchor="end" letter-spacing="0.33" fill="#000" transform="translate(1211.30 2327.50) rotate(-45)">LIC37</text>
<text x="0" y="0" font-size="36" text-anchor="end" letter-spacing="0.33" fill="#000" transform="translate(1286.50 2327.50) rotate(-45)">C.jejuni</text>
<text x="0" y="0" font-size="36" text-anchor="end" letter-spacing="0.33" fill="#000" transform="translate(1362.70 2327.50) rotate(-45)">C.jejuni+LIC37</text>
</svg>
</body></html>
